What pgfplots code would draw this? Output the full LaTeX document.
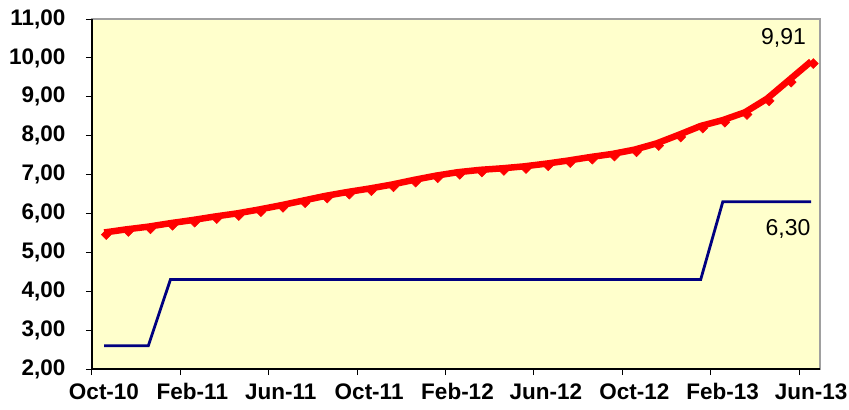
\documentclass[border=0pt]{standalone}
\usepackage{fontspec}
\setmainfont{Liberation Sans}
\usepackage{pgfplots}
\pgfplotsset{compat=1.18}
\definecolor{bgyellow}{RGB}{255,255,204}
\definecolor{navyline}{RGB}{0,0,128}
\definecolor{framegray}{RGB}{160,160,160}
\begin{document}
\begin{tikzpicture}
\begin{axis}[
  scale only axis, width=728bp, height=350bp,
  xmin=0, xmax=32.95, ymin=2, ymax=11,
  axis background/.style={fill=bgyellow},
  axis line style={framegray, line width=1.2bp},
  xtick={0,4,...,32},
  xticklabels={Oct-10,Feb-11,Jun-11,Oct-11,Feb-12,Jun-12,Oct-12,Feb-13,Jun-13},
  ytick={2,3,...,11},
  tick align=outside, major tick length=6bp,
  xtick pos=bottom, ytick pos=left,
  tick style={black, line width=1bp},
  xticklabel style={xshift=12bp, yshift=-5bp, font=\fontsize{22.5bp}{26bp}\selectfont\bfseries},
  yticklabel style={xshift=-17bp, font=\fontsize{22.5bp}{26bp}\selectfont\bfseries},
  /pgf/number format/fixed,
  /pgf/number format/fixed zerofill,
  /pgf/number format/precision=2,
  /pgf/number format/use comma,
  /pgf/number format/assume math mode=true,
  clip=false,
]
\addplot[red, line width=6.5bp, mark=square*, mark size=3.5bp,
  mark options={rotate=45, yshift=-3bp, line width=0.5bp, fill=red, draw=red}]
  table[x=x, y=y] {
x y
0.55 5.51
1.55 5.59
2.55 5.66
3.55 5.75
4.55 5.83
5.55 5.92
6.55 6.00
7.55 6.10
8.55 6.21
9.55 6.33
10.55 6.45
11.55 6.55
12.55 6.64
13.55 6.74
14.55 6.86
15.55 6.97
16.55 7.06
17.55 7.12
18.55 7.16
19.55 7.21
20.55 7.28
21.55 7.36
22.55 7.45
23.55 7.53
24.55 7.64
25.55 7.80
26.55 8.02
27.55 8.25
28.55 8.40
29.55 8.60
30.55 8.95
31.55 9.43
32.55 9.91
};
\addplot[navyline, line width=2.8bp, mark=none] table[x=x, y=y] {
x y
0.55 2.60
1.55 2.60
2.55 2.60
3.55 4.30
4.55 4.30
5.55 4.30
6.55 4.30
7.55 4.30
8.55 4.30
9.55 4.30
10.55 4.30
11.55 4.30
12.55 4.30
13.55 4.30
14.55 4.30
15.55 4.30
16.55 4.30
17.55 4.30
18.55 4.30
19.55 4.30
20.55 4.30
21.55 4.30
22.55 4.30
23.55 4.30
24.55 4.30
25.55 4.30
26.55 4.30
27.55 4.30
28.55 6.30
29.55 6.30
30.55 6.30
31.55 6.30
32.55 6.30
};
\draw[black, line width=1.6bp] (rel axis cs:0,1) -- (rel axis cs:0,0) -- (rel axis cs:1,0);
\node[font=\fontsize{23bp}{27bp}\selectfont] at (axis cs:31.3,10.51) {9,91};
\node[font=\fontsize{23bp}{27bp}\selectfont] at (axis cs:31.5,5.60) {6,30};
\end{axis}
\pgfresetboundingbox
\path (-92bp,-41bp) rectangle (757bp,369bp);
\end{tikzpicture}
\end{document}
